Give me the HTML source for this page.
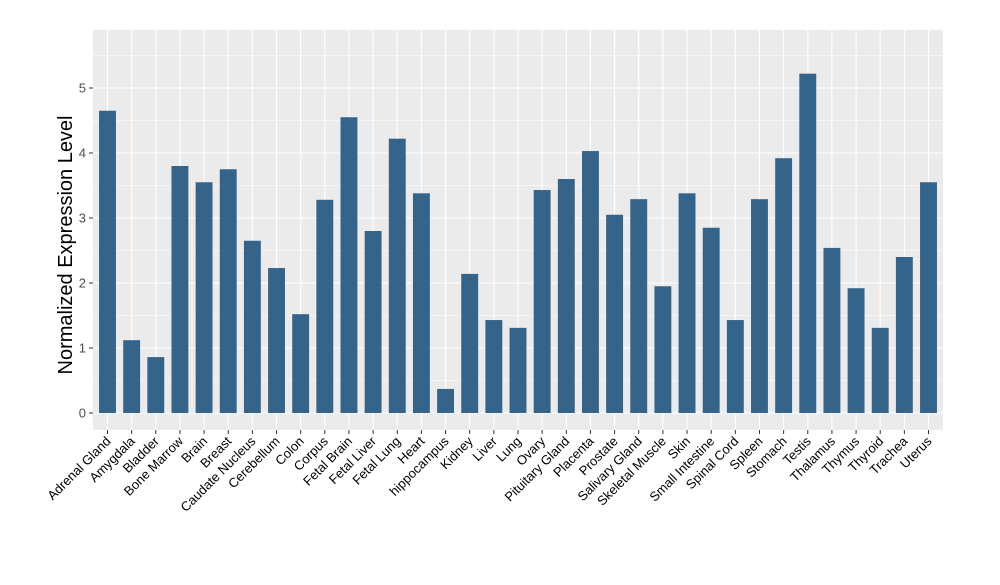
<!DOCTYPE html>
<html><head><meta charset="utf-8"><style>
body{margin:0;background:#fff}
svg{font-family:"Liberation Sans",Arial,sans-serif}
</style></head><body>
<svg id="c" width="1000" height="580">
<rect x="93" y="30" width="850" height="400" fill="#EBEBEB"/>
<g id="grid"></g><g id="bars"></g><g id="axes"></g>
<text transform="translate(72,245) rotate(-90)" text-anchor="middle" font-size="20" fill="#000">Normalized Expression Level</text>
</svg>
<script>
const categories=["Adrenal Gland","Amygdala","Bladder","Bone Marrow","Brain","Breast","Caudate Nucleus","Cerebellum","Colon","Corpus","Fetal Brain","Fetal Liver","Fetal Lung","Heart","hippocampus","Kidney","Liver","Lung","Ovary","Pituitary Gland","Placenta","Prostate","Salivary Gland","Skeletal Muscle","Skin","Small Intestine","Spinal Cord","Spleen","Stomach","Testis","Thalamus","Thymus","Thyroid","Trachea","Uterus"];
const values=[4.65,1.12,0.86,3.8,3.55,3.75,2.65,2.23,1.52,3.28,4.55,2.8,4.22,3.38,0.37,2.14,1.43,1.31,3.43,3.6,4.03,3.05,3.29,1.95,3.38,2.85,1.43,3.29,3.92,5.22,2.54,1.92,1.31,2.4,3.55];
const yTicks=[0,1,2,3,4,5];
const NS="http://www.w3.org/2000/svg";
const L=93,R=943,T=30,B=430;
const y=v=>413-v*65;
const step=(R-L)/(categories.length+0.2);
const x=i=>L+step*0.6+i*step;
const bw=step*0.7;
function mk(t,a,p){const e=document.createElementNS(NS,t);for(const k in a)e.setAttribute(k,a[k]);p.appendChild(e);return e;}
const g=document.getElementById('grid'),bars=document.getElementById('bars'),ax=document.getElementById('axes');
for(let v=-0.5;v<=5.5;v+=0.5){const yy=y(v);if(yy<T||yy>B)continue;
 const ln=mk('line',{x1:L,x2:R,y1:yy,y2:yy,stroke:'#fff','stroke-width':Number.isInteger(v)?1.1:0.5},g);
 
 }
categories.forEach((c,i)=>{const ln=mk('line',{x1:x(i),x2:x(i),y1:T,y2:B,stroke:'#fff','stroke-width':1.1},g);
 
 });
values.forEach((v,i)=>{const r=mk('rect',{x:x(i)-bw/2,y:y(v),width:bw,height:y(0)-y(v),fill:'#35648A'},bars);
 
 });
yTicks.forEach(t=>{mk('line',{x1:L-4,x2:L,y1:y(t),y2:y(t),stroke:'#333'},ax);
 const tx=mk('text',{x:L-7,y:y(t)+4.5,'text-anchor':'end','font-size':13,fill:'#4D4D4D'},ax);tx.textContent=t;
 
 });
categories.forEach((c,i)=>{mk('line',{x1:x(i),x2:x(i),y1:B,y2:B+4,stroke:'#333'},ax);
 const tx=mk('text',{transform:`translate(${x(i)+4},${B+12}) rotate(-45)`,'text-anchor':'end','font-size':13,fill:'#000'},ax);tx.textContent=c;
 
 });
</script>
</body></html>
